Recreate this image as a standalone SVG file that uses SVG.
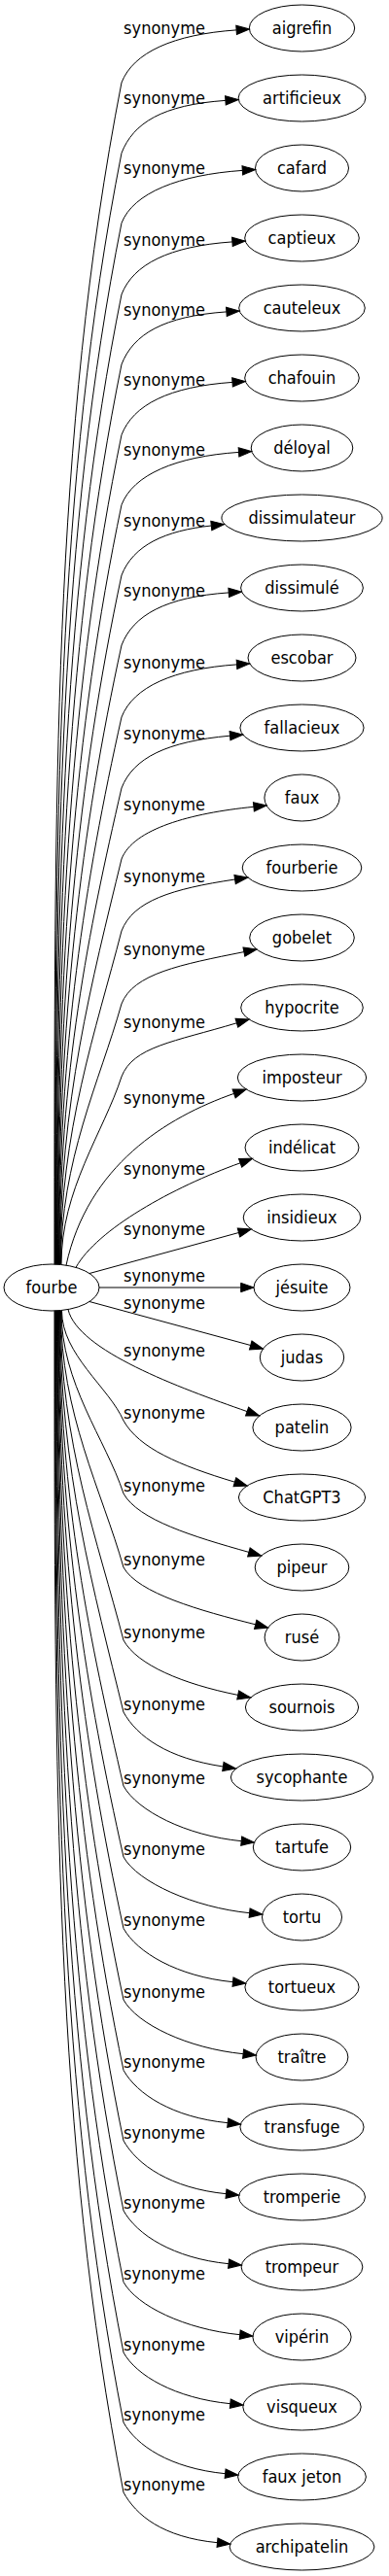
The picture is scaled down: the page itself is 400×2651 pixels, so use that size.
<svg xmlns="http://www.w3.org/2000/svg" width="400" height="2651" viewBox="0 0 400 2651">
<style>
text{font-family:"DejaVu Sans Condensed","DejaVu Sans",sans-serif;font-stretch:condensed;font-size:18px;fill:#000;text-anchor:middle}
.n ellipse{fill:none;stroke:#000;stroke-width:1}
.e path{fill:none;stroke:#000;stroke-width:1;marker-end:url(#a)}
</style>
<defs>
<marker id="a" markerUnits="userSpaceOnUse" viewBox="0 0 13.3 9.34" markerWidth="13.3" markerHeight="9.34" refX="0" refY="4.67" orient="auto" overflow="visible"><path d="M0,0 L13.3,4.67 L0,9.34 z" fill="#000" stroke="#000" stroke-width="1"/></marker>
</defs>
<rect width="400" height="2651" fill="#fff"/>
<g id="edges" class="e">
<g id="e-aigrefin"><path d="M56,1301.2 C56,814.7 54,449.9 125,85 C137,54 178.1,35.4 243.1,30.9"/><text x="169" y="34.5">synonyme</text></g>
<g id="e-artificieux"><path d="M56.5,1301.2 C56.5,843.7 57.7,500.6 125,157.5 C137,126.5 166.9,107.9 231.9,103.4"/><text x="169" y="107">synonyme</text></g>
<g id="e-cafard"><path d="M57,1301.2 C57,872.5 61.3,551 125,229.5 C137,198.5 184.3,179.9 249.3,175.4"/><text x="169" y="179">synonyme</text></g>
<g id="e-captieux"><path d="M57.5,1301.2 C57.5,901.9 65.1,602.5 125,303 C137,272 173.9,253.4 238.9,248.9"/><text x="169" y="252.5">synonyme</text></g>
<g id="e-cauteleux"><path d="M58,1301.2 C58,930.7 68.8,652.9 125,375 C137,344 167.9,325.4 232.9,320.9"/><text x="169" y="324.5">synonyme</text></g>
<g id="e-chafouin"><path d="M58.5,1301.2 C58.5,959.7 72.5,703.6 125,447.5 C137,416.5 174,397.9 239,393.4"/><text x="169" y="397">synonyme</text></g>
<g id="e-deloyal"><path d="M59,1301.2 C59,988.5 76.1,754 125,519.5 C137,488.5 180.5,469.9 245.5,465.4"/><text x="169" y="469">synonyme</text></g>
<g id="e-dissimulateur"><path d="M59.5,1301.2 C59.5,1017.5 79.8,804.8 125,592 C137,561 170,546 217.3,541"/><text x="169" y="541.5">synonyme</text></g>
<g id="e-dissimule"><path d="M60,1301.2 C60,1046.3 83.5,855.2 125,664 C137,633 170.2,614.4 235.2,609.9"/><text x="169" y="613.5">synonyme</text></g>
<g id="e-escobar"><path d="M60.5,1301.2 C60.5,1075.9 87.3,907 125,738 C137,707 178.5,688.4 243.5,683.9"/><text x="169" y="687.5">synonyme</text></g>
<g id="e-fallacieux"><path d="M61,1301.2 C61,1105.1 91,958.1 125,811 C137,780 171.5,763 236.5,757.2"/><text x="169" y="760.5">synonyme</text></g>
<g id="e-faux"><path d="M61.5,1301.2 C61.5,1134.3 94.7,1009.2 125,884 C137,853 195.9,836.8 260.9,830.3"/><text x="169" y="833.5">synonyme</text></g>
<g id="e-fourberie"><path d="M62,1301.2 C62,1163.9 98.5,1061 125,958 C137,927 176.6,914.8 241.6,905"/><text x="169" y="907.5">synonyme</text></g>
<g id="e-gobelet"><path d="M62.5,1301.2 C62.5,1193.9 102.3,1113.5 125,1033 C137,1002 185.9,992.6 250.9,979.6"/><text x="169" y="982.5">synonyme</text></g>
<g id="e-hypocrite"><path d="M63,1301.2 C63,1223.9 106.1,1166 125,1108 C137,1077 178.4,1072.3 243.4,1052.8"/><text x="169" y="1057.5">synonyme</text></g>
<g id="e-imposteur"><path d="M68,1302.2 C90,1200 170.6,1149.9 240.6,1125.4"/><text x="169" y="1135.5">synonyme</text></g>
<g id="e-indelicat"><path d="M78,1304.4 C100,1265 177.1,1222 247.1,1196.8"/><text x="169" y="1208.5">synonyme</text></g>
<g id="e-insidieux"><path d="M92,1310.5 L245.5,1268.5"/><text x="169" y="1271">synonyme</text></g>
<g id="e-jesuite"><path d="M102,1325 L247.7,1325"/><text x="169" y="1318.5">synonyme</text></g>
<g id="e-judas"><path d="M92,1339.5 L257.7,1384.5"/><text x="169" y="1347">synonyme</text></g>
<g id="e-patelin"><path d="M70,1347.5 C80,1390 184.1,1428.1 254.1,1452.6"/><text x="169" y="1395.5">synonyme</text></g>
<g id="e-chatgpt3"><path d="M63.5,1348.8 C63.5,1394.1 112.2,1428 127,1462 C142.8,1490.4 184.4,1508.1 241.4,1525.2"/><text x="169" y="1459.5">synonyme</text></g>
<g id="e-pipeur"><path d="M63,1348.8 C63,1424.1 108.4,1480.5 127,1537 C142.1,1564.2 198.9,1581.4 255.9,1597.4"/><text x="169" y="1534.5">synonyme</text></g>
<g id="e-ruse"><path d="M62.5,1348.8 C62.5,1454.5 104.5,1533.7 127,1613 C141.7,1639.5 205.7,1657.6 262.7,1671.8"/><text x="169" y="1610.5">synonyme</text></g>
<g id="e-sournois"><path d="M62,1348.8 C62,1484.5 100.7,1586.2 127,1688 C141.1,1713.4 187.7,1733 244.7,1744.4"/><text x="169" y="1685.5">synonyme</text></g>
<g id="e-sycophante"><path d="M61.5,1348.8 C61.5,1514.1 96.9,1638 127,1762 C141,1787.2 172.4,1809.5 229.4,1818"/><text x="169" y="1759.5">synonyme</text></g>
<g id="e-tartufe"><path d="M61,1348.8 C61,1544.5 93.1,1691.2 127,1838 C141.2,1863.5 191.2,1889 248.2,1894.7"/><text x="169" y="1835.5">synonyme</text></g>
<g id="e-tortu"><path d="M60.5,1348.8 C60.5,1573.7 89.3,1742.3 127,1911 C141.4,1937 199.6,1963 256.6,1968.7"/><text x="169" y="1908.5">synonyme</text></g>
<g id="e-tortueux"><path d="M60,1348.8 C60,1603.1 85.6,1793.8 127,1984.5 C140.8,2009.3 182.5,2034 239.5,2039.7"/><text x="169" y="1982">synonyme</text></g>
<g id="e-traitre"><path d="M59.5,1348.8 C59.5,1632.5 81.8,1845.2 127,2058 C140.9,2083.1 193.1,2108 250.1,2113.7"/><text x="169" y="2055.5">synonyme</text></g>
<g id="e-transfuge"><path d="M59,1348.8 C59,1661.5 78.1,1896 127,2130.5 C140.6,2154.9 177.2,2179 234.2,2184.7"/><text x="169" y="2128">synonyme</text></g>
<g id="e-tromperie"><path d="M58.5,1348.8 C58.5,1690.5 74.4,1946.7 127,2203 C140.7,2227.6 175.5,2252 232.5,2257.7"/><text x="169" y="2200.5">synonyme</text></g>
<g id="e-trompeur"><path d="M58,1348.8 C58,1719.3 70.8,1997.1 127,2275 C140.7,2299.6 178.1,2324 235.1,2329.7"/><text x="169" y="2272.5">synonyme</text></g>
<g id="e-viperin"><path d="M57.5,1348.8 C57.5,1748.7 67,2048.6 127,2348.5 C140.6,2372.9 189.7,2397 246.7,2402.7"/><text x="169" y="2346">synonyme</text></g>
<g id="e-visqueux"><path d="M57,1348.8 C57,1777.7 63.3,2099.3 127,2421 C140.2,2444.7 179.8,2468 236.8,2473.7"/><text x="169" y="2418.5">synonyme</text></g>
<g id="e-faux-jeton"><path d="M56.5,1348.8 C56.5,1806.5 59.6,2149.7 127,2493 C140.2,2516.7 174.6,2540 231.6,2545.7"/><text x="169" y="2490.5">synonyme</text></g>
<g id="e-archipatelin"><path d="M56,1348.8 C56,1835.3 56,2200.1 127,2565 C139.9,2588.3 166.5,2611 223.5,2616.7"/><text x="169" y="2562.5">synonyme</text></g>
</g>
<g id="nodes" class="n">
<g id="fourbe"><ellipse cx="53" cy="1325" rx="49" ry="24"/><text x="53" y="1330.5">fourbe</text></g>
<g id="aigrefin"><ellipse cx="310.5" cy="29" rx="54.2" ry="24"/><text x="310.5" y="34.5">aigrefin</text></g>
<g id="artificieux"><ellipse cx="310.5" cy="101" rx="65.4" ry="24"/><text x="310.5" y="106.5">artificieux</text></g>
<g id="cafard"><ellipse cx="310.5" cy="173" rx="48" ry="24"/><text x="310.5" y="178.5">cafard</text></g>
<g id="captieux"><ellipse cx="310.5" cy="245" rx="58.8" ry="24"/><text x="310.5" y="250.5">captieux</text></g>
<g id="cauteleux"><ellipse cx="310.5" cy="317" rx="64.8" ry="24"/><text x="310.5" y="322.5">cauteleux</text></g>
<g id="chafouin"><ellipse cx="310.5" cy="389" rx="58.8" ry="24"/><text x="310.5" y="394.5">chafouin</text></g>
<g id="deloyal"><ellipse cx="310.5" cy="461" rx="52.3" ry="24"/><text x="310.5" y="466.5">déloyal</text></g>
<g id="dissimulateur"><ellipse cx="310.5" cy="533" rx="82.6" ry="24"/><text x="310.5" y="538.5">dissimulateur</text></g>
<g id="dissimule"><ellipse cx="310.5" cy="605" rx="62.9" ry="24"/><text x="310.5" y="610.5">dissimulé</text></g>
<g id="escobar"><ellipse cx="310.5" cy="677" rx="55.5" ry="24"/><text x="310.5" y="682.5">escobar</text></g>
<g id="fallacieux"><ellipse cx="310.5" cy="749" rx="63.6" ry="24"/><text x="310.5" y="754.5">fallacieux</text></g>
<g id="faux"><ellipse cx="310.5" cy="821" rx="38.6" ry="24"/><text x="310.5" y="826.5">faux</text></g>
<g id="fourberie"><ellipse cx="310.5" cy="893" rx="61.3" ry="24"/><text x="310.5" y="898.5">fourberie</text></g>
<g id="gobelet"><ellipse cx="310.5" cy="965" rx="53.8" ry="24"/><text x="310.5" y="970.5">gobelet</text></g>
<g id="hypocrite"><ellipse cx="310.5" cy="1037" rx="62.8" ry="24"/><text x="310.5" y="1042.5">hypocrite</text></g>
<g id="imposteur"><ellipse cx="310.5" cy="1109" rx="66.2" ry="24"/><text x="310.5" y="1114.5">imposteur</text></g>
<g id="indelicat"><ellipse cx="310.5" cy="1181" rx="58.5" ry="24"/><text x="310.5" y="1186.5">indélicat</text></g>
<g id="insidieux"><ellipse cx="310.5" cy="1253" rx="60.3" ry="24"/><text x="310.5" y="1258.5">insidieux</text></g>
<g id="jesuite"><ellipse cx="310.5" cy="1325" rx="49.5" ry="24"/><text x="310.5" y="1330.5">jésuite</text></g>
<g id="judas"><ellipse cx="310.5" cy="1397" rx="43.2" ry="24"/><text x="310.5" y="1402.5">judas</text></g>
<g id="patelin"><ellipse cx="310.5" cy="1469" rx="50.6" ry="24"/><text x="310.5" y="1474.5">patelin</text></g>
<g id="chatgpt3"><ellipse cx="310.5" cy="1541" rx="65.1" ry="24"/><text x="310.5" y="1546.5">ChatGPT3</text></g>
<g id="pipeur"><ellipse cx="310.5" cy="1613" rx="48.3" ry="24"/><text x="310.5" y="1618.5">pipeur</text></g>
<g id="ruse"><ellipse cx="310.5" cy="1685" rx="38.4" ry="24"/><text x="310.5" y="1690.5">rusé</text></g>
<g id="sournois"><ellipse cx="310.5" cy="1757" rx="58.1" ry="24"/><text x="310.5" y="1762.5">sournois</text></g>
<g id="sycophante"><ellipse cx="310.5" cy="1829" rx="73.2" ry="24"/><text x="310.5" y="1834.5">sycophante</text></g>
<g id="tartufe"><ellipse cx="310.5" cy="1901" rx="50.2" ry="24"/><text x="310.5" y="1906.5">tartufe</text></g>
<g id="tortu"><ellipse cx="310.5" cy="1973" rx="41" ry="24"/><text x="310.5" y="1978.5">tortu</text></g>
<g id="tortueux"><ellipse cx="310.5" cy="2045" rx="58.6" ry="24"/><text x="310.5" y="2050.5">tortueux</text></g>
<g id="traitre"><ellipse cx="310.5" cy="2117" rx="47.4" ry="24"/><text x="310.5" y="2122.5">traître</text></g>
<g id="transfuge"><ellipse cx="310.5" cy="2189" rx="63.6" ry="24"/><text x="310.5" y="2194.5">transfuge</text></g>
<g id="tromperie"><ellipse cx="310.5" cy="2261" rx="65" ry="24"/><text x="310.5" y="2266.5">tromperie</text></g>
<g id="trompeur"><ellipse cx="310.5" cy="2333" rx="62.4" ry="24"/><text x="310.5" y="2338.5">trompeur</text></g>
<g id="viperin"><ellipse cx="310.5" cy="2405" rx="50.6" ry="24"/><text x="310.5" y="2410.5">vipérin</text></g>
<g id="visqueux"><ellipse cx="310.5" cy="2477" rx="60.7" ry="24"/><text x="310.5" y="2482.5">visqueux</text></g>
<g id="faux-jeton"><ellipse cx="310.5" cy="2549" rx="65.9" ry="24"/><text x="310.5" y="2554.5">faux jeton</text></g>
<g id="archipatelin"><ellipse cx="310.5" cy="2621" rx="74.4" ry="24"/><text x="310.5" y="2626.5">archipatelin</text></g>
</g>
</svg>
